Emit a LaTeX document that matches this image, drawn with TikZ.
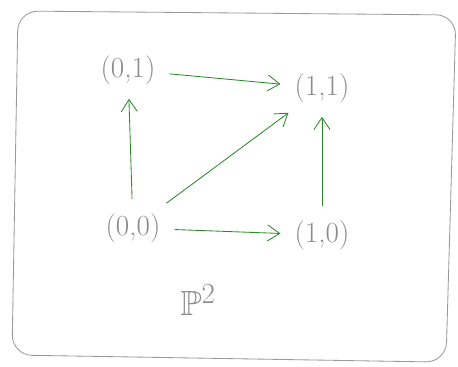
\documentclass[tikz,border=0pt]{standalone}
\usepackage{xcolor}
\usepackage{tikz}
\usepackage{amsmath}
\usepackage{amssymb}
\usetikzlibrary{
  arrows.meta,
  positioning,
  calc
}
\definecolor{skGreen}{HTML}{2A8A2A}
\definecolor{skGray}{HTML}{8C8C8C}
\definecolor{skFrame}{HTML}{9A9A9A}
\tikzset{
  ptnode/.style={
    font=\huge, text=skGray, inner sep=1mm
  },
  skarrow/.style={-{Straight Barb[length=3mm, width=4mm]}, semithick, skGreen,
    shorten <=2.5mm, shorten >=2.5mm},
  skframe/.style={draw=skFrame, semithick, rounded corners=5mm},
  spacelabel/.style={font=\Huge, text=skGray}
}

\begin{document}
\begin{tikzpicture}
  \useasboundingbox (0,0) rectangle (11.45,9.175);
  \draw[skframe] (0.45,8.9) -- (11.4,8.8) -- (11.15,0.12) -- (0.3,0.3) -- cycle;

  \node[ptnode] (n00) at (3.325,3.475) {(0,0)};
  \node[ptnode] (n01) at (3.2,7.425) {(0,1)};
  \node[ptnode] (n10) at (8.05,3.3) {(1,0)};
  \node[ptnode] (n11) at (8.05,6.975) {(1,1)};
  \node[spacelabel] (P2) at (4.95,1.675) {$\mathbb{P}^2$};

  \draw[skarrow] (n01) -- (n11);
  \draw[skarrow] (n00) -- (n01);
  \draw[skarrow] (n00) -- (n11);
  \draw[skarrow] (n00) -- (n10);
  \draw[skarrow] (n10) -- (n11);
\end{tikzpicture}
\end{document}
